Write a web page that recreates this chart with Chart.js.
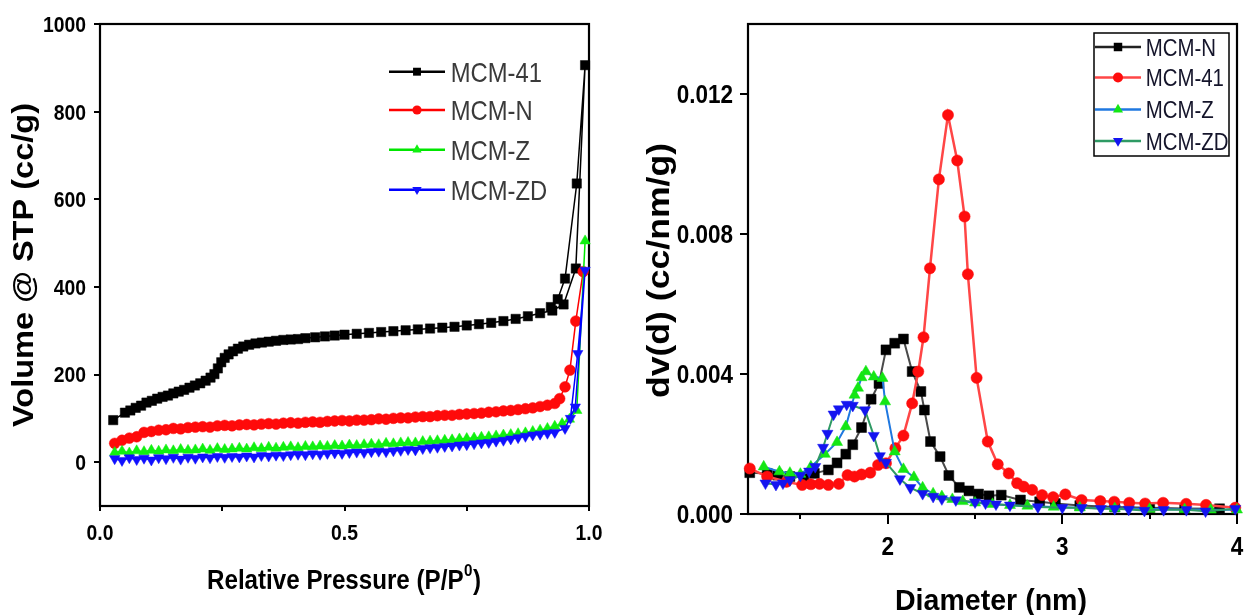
<!DOCTYPE html>
<html>
<head>
<meta charset="utf-8">
<title>N2 sorption isotherms and pore size distribution</title>
<script src="https://cdn.jsdelivr.net/npm/chart.js@4.4.1/dist/chart.umd.min.js"></script>
<style>
  html, body { margin: 0; padding: 0; background: #fff; }
  #wrap { position: relative; width: 1247px; height: 615px; overflow: hidden; }
  canvas { position: absolute; top: 0; }
  #iso { left: 0; }
  #psd { left: 625px; }
</style>
</head>
<body>
<div id="wrap">
  <canvas id="iso" width="625" height="615"></canvas>
  <canvas id="psd" width="622" height="615"></canvas>
</div>
<script>
// ---------- Isotherm panel: volume adsorbed vs relative pressure ----------
const isoNames = ['MCM-41', 'MCM-N', 'MCM-Z', 'MCM-ZD'];

// MCM-41: adsorption branch followed by the desorption branch
const isoP41 = [0.027,0.051,0.062,0.073,0.084,0.095,0.106,0.117,0.128,0.139,0.150,0.161,0.172,0.183,0.194,0.205,0.216,0.226,0.234,0.241,0.248,0.255,0.263,0.272,0.282,0.293,0.305,0.318,0.331,0.345,0.360,0.375,0.390,0.405,0.420,0.440,0.460,0.480,0.500,0.525,0.550,0.575,0.600,0.625,0.650,0.675,0.700,0.725,0.750,0.775,0.800,0.825,0.850,0.875,0.900,0.925,0.948,0.973,0.992,0.975,0.951,0.936,0.922];
const isoV41 = [96,113,118,124,129,136,140,145,149,152,157,161,165,170,175,180,186,193,201,214,228,238,246,253,259,264,268,271,273,275,277,279,280,281,283,285,287,289,291,293,295,297,299,301,303,305,307,309,312,315,318,322,327,333,340,346,360,442,906,636,419,372,354];

// shared low/medium pressure grid for the three modified samples
const isoPLow = [0.030,0.045,0.060,0.075,0.090,0.105,0.120,0.135,0.150,0.165,0.180,0.195,0.210,0.225,0.240,0.255,0.270,0.285,0.300,0.315,0.330,0.345,0.360,0.375,0.390,0.405,0.420,0.435,0.450,0.465,0.480,0.495,0.510,0.525,0.540,0.555,0.570,0.585,0.600,0.615,0.630,0.645,0.660,0.675,0.690,0.705,0.720,0.735,0.750,0.765,0.780,0.795,0.810,0.825,0.840,0.855,0.870,0.885,0.900,0.915,0.930];
const isoVNLow = [43,50,55,58,68,70,73,74,77,76,79,80,81,80,83,84,83,85,86,85,87,88,87,89,90,89,91,92,91,93,94,95,94,96,96,97,99,98,100,101,101,103,104,104,106,107,107,109,110,111,112,114,115,117,118,120,122,124,127,130,134];
const isoVZLow = [22,25,21,26,24,27,25,28,26,29,27,28,30,27,31,29,30,32,30,33,31,34,32,34,35,33,36,35,37,36,38,37,39,38,40,41,40,43,42,44,45,44,47,48,49,50,51,53,54,55,57,58,60,62,63,65,67,70,73,77,82];
const isoVZDLow = [8,4,10,6,9,5,10,8,11,7,11,9,12,10,13,11,13,12,14,12,15,14,16,15,17,18,17,19,18,20,21,20,22,23,22,24,25,24,26,27,29,28,31,33,34,36,37,39,40,42,44,45,48,50,53,56,59,62,64,66,68];

// high pressure ends (capillary condensation region)
const isoPNHigh = [0.940,0.951,0.961,0.973,0.988];
const isoVNHigh = [145,172,210,322,435];
const isoPZHigh = [0.945,0.960,0.975,0.992];
const isoVZHigh = [88,98,118,505];
const isoPZDHigh = [0.951,0.972,0.992,0.977,0.962];
const isoVZDHigh = [77,126,438,248,100];

const isoXTicks = [0, 0.5, 1.0];
const isoXTickLabels = ['0.0', '0.5', '1.0'];
const isoXMinor = [0.25, 0.75];
const isoYTicks = [0, 200, 400, 600, 800, 1000];
const isoYTickLabels = ['0', '200', '400', '600', '800', '1000'];

// ---------- Pore size distribution panel ----------
const psdNames = ['MCM-N', 'MCM-41', 'MCM-Z', 'MCM-ZD'];
const psdDN = [1.21,1.31,1.37,1.44,1.52,1.58,1.66,1.71,1.76,1.80,1.85,1.905,1.95,1.99,2.04,2.09,2.14,2.19,2.21,2.245,2.30,2.35,2.41,2.465,2.52,2.58,2.65,2.76,2.87,2.96,3.10,3.30,3.50,3.70,3.90];
const psdVN = [0.00118,0.00116,0.00111,0.00107,0.00107,0.00116,0.00126,0.00146,0.00171,0.00198,0.00247,0.00328,0.00373,0.00469,0.00488,0.00500,0.00407,0.00350,0.00297,0.00207,0.00164,0.00110,0.00076,0.00066,0.00057,0.00052,0.00054,0.00040,0.00035,0.00030,0.00024,0.00020,0.00018,0.00016,0.00015];
const psdD41 = [1.21,1.31,1.42,1.51,1.56,1.61,1.66,1.72,1.77,1.81,1.85,1.90,1.945,1.99,2.044,2.09,2.14,2.175,2.205,2.242,2.293,2.345,2.398,2.44,2.459,2.509,2.573,2.63,2.693,2.741,2.779,2.827,2.884,2.947,3.017,3.11,3.217,3.297,3.383,3.474,3.577,3.709,3.823,3.99];
const psdV41 = [0.0013,0.00107,0.00092,0.00083,0.00085,0.00086,0.00083,0.00086,0.00111,0.00107,0.00113,0.00118,0.0014,0.00145,0.00188,0.00224,0.00316,0.00407,0.00505,0.00702,0.00956,0.0114,0.0101,0.0085,0.00685,0.00389,0.00207,0.00142,0.00116,0.00088,0.00078,0.00069,0.00054,0.00048,0.00056,0.0004,0.00037,0.00035,0.00032,0.0003,0.00032,0.00029,0.00026,0.00018];
const psdDZ = [1.29,1.38,1.44,1.50,1.56,1.64,1.71,1.76,1.81,1.83,1.85,1.875,1.92,1.97,1.985,2.04,2.09,2.15,2.20,2.26,2.31,2.37,2.43,2.50,2.60,2.70,2.80,2.95,3.10,3.30,3.50,3.70,3.85,4.00];
const psdVZ = [0.00135,0.00121,0.00117,0.00114,0.00135,0.00171,0.00205,0.0025,0.0034,0.0036,0.0039,0.00407,0.00392,0.00388,0.00321,0.00178,0.00128,0.00105,0.00075,0.00058,0.0005,0.00042,0.00036,0.00032,0.00028,0.00025,0.00023,0.0002,0.00018,0.00016,0.00014,0.00013,0.00012,0.00012];
const psdDZD = [1.30,1.36,1.40,1.44,1.50,1.55,1.585,1.63,1.655,1.69,1.72,1.765,1.80,1.87,1.92,1.955,1.99,2.07,2.13,2.20,2.26,2.31,2.39,2.50,2.56,2.62,2.70,2.86,3.00,3.11,3.22,3.30,3.38,3.47,3.58,3.71,3.82,3.99];
const psdVZD = [0.00088,0.00084,0.00088,0.00097,0.0011,0.00122,0.00135,0.0019,0.0023,0.00285,0.003,0.00313,0.0031,0.00297,0.00224,0.00166,0.00147,0.001,0.00075,0.00058,0.0005,0.00043,0.0004,0.00034,0.00031,0.00028,0.00025,0.0002,0.00018,0.00018,0.00015,0.00015,0.00013,0.0001,0.00012,0.00012,0.00008,0.00015];

const psdXTicks = [2, 3, 4];
const psdXTickLabels = ['2', '3', '4'];
const psdXMinor = [1.5, 2.5, 3.5];
const psdYTicks = [0, 0.004, 0.008, 0.012];
const psdYTickLabels = ['0.000', '0.004', '0.008', '0.012'];

// ---------- drawing helpers ----------
const FONT = '"Liberation Sans", Arial, Helvetica, sans-serif';

// Draw text; y is the cap-height centre when capMid is set, otherwise the baseline.
function putText(ctx, str, x, y, o) {
  ctx.save();
  ctx.font = (o.weight || 'normal') + ' ' + o.size + 'px ' + FONT;
  ctx.fillStyle = o.color || '#000';
  ctx.textBaseline = 'alphabetic';
  ctx.textAlign = 'left';
  const natural = ctx.measureText(str).width;
  const sx = o.width ? o.width / natural : (o.sx || 1);
  const w = natural * sx;
  ctx.translate(x, y);
  if (o.rotate) ctx.rotate(o.rotate);
  const dx = o.align === 'center' ? -w / 2 : (o.align === 'right' ? -w : 0);
  ctx.translate(dx, o.capMid ? 0.358 * o.size : 0);
  ctx.scale(sx, 1);
  ctx.fillText(str, 0, 0);
  ctx.restore();
  return w;
}

function marker(ctx, shape, x, y, r, color, rot) {
  ctx.save();
  ctx.fillStyle = color;
  ctx.beginPath();
  if (shape === 'rect') {
    const s = Math.SQRT1_2 * r;
    ctx.rect(x - s, y - s, 2 * s, 2 * s);
  } else if (shape === 'triangle') {
    let a = (rot || 0) * Math.PI / 180;
    for (let k = 0; k < 3; k++) {
      const px = x + Math.sin(a) * r, py = y - Math.cos(a) * r;
      if (k === 0) ctx.moveTo(px, py); else ctx.lineTo(px, py);
      a += 2 * Math.PI / 3;
    }
    ctx.closePath();
  } else {
    ctx.arc(x, y, r, 0, Math.PI * 2);
  }
  ctx.fill();
  ctx.restore();
}

function series(name, xs, ys, st) {
  return {
    label: name,
    data: xs.map((x, i) => ({ x: x, y: ys[i] })),
    showLine: true,
    tension: 0,
    borderColor: st.line,
    borderWidth: st.lw,
    pointStyle: st.shape,
    pointRotation: st.rot || 0,
    pointRadius: st.r,
    pointBackgroundColor: st.fill,
    pointBorderColor: st.fill,
    pointBorderWidth: 0.5,
    clip: false,
    order: st.order,
    legendLine: st.legendLine || st.line,
    legendRadius: st.lr
  };
}

function frameAndTicks(chart, t) {
  const ctx = chart.ctx, a = chart.chartArea;
  const xs = chart.scales.x, ys = chart.scales.y;
  ctx.save();
  ctx.strokeStyle = '#000';
  ctx.lineWidth = 2.2;
  ctx.strokeRect(a.left, a.top, a.right - a.left, a.bottom - a.top);
  ctx.lineWidth = 2;
  ctx.beginPath();
  t.yTicks.forEach(v => {
    const py = Math.round(ys.getPixelForValue(v));
    ctx.moveTo(a.left - t.yLen, py); ctx.lineTo(a.left, py);
  });
  t.xTicks.forEach(v => {
    const px = Math.round(xs.getPixelForValue(v));
    ctx.moveTo(px, a.bottom); ctx.lineTo(px, a.bottom + t.xLen);
  });
  t.xMinor.forEach(v => {
    const px = Math.round(xs.getPixelForValue(v));
    ctx.moveTo(px, a.bottom); ctx.lineTo(px, a.bottom + t.xMinorLen);
  });
  ctx.stroke();
  ctx.restore();
}

function tickLabels(chart, t) {
  const ctx = chart.ctx, a = chart.chartArea;
  const xs = chart.scales.x, ys = chart.scales.y;
  t.yTicks.forEach((v, i) => {
    putText(ctx, t.yLabels[i], a.left - t.yPad, ys.getPixelForValue(v),
      { size: t.size, weight: 'bold', sx: t.sx, align: 'right', capMid: true });
  });
  t.xTicks.forEach((v, i) => {
    putText(ctx, t.xLabels[i], xs.getPixelForValue(v), t.xLabelY,
      { size: t.size, weight: 'bold', sx: t.sx, align: 'center', capMid: true });
  });
}

function legendEntries(chart, L) {
  const ctx = chart.ctx;
  chart.data.datasets.forEach((ds, i) => {
    const y = L.rows[i];
    ctx.save();
    ctx.strokeStyle = ds.legendLine;
    ctx.lineWidth = L.lw;
    ctx.beginPath();
    ctx.moveTo(L.x0, y); ctx.lineTo(L.x1, y);
    ctx.stroke();
    ctx.restore();
    marker(ctx, ds.pointStyle, (L.x0 + L.x1) / 2, y, ds.legendRadius, ds.pointBackgroundColor, ds.pointRotation);
    putText(ctx, ds.label, L.textX, y, { size: L.size, sx: L.sx, color: L.color, capMid: true });
  });
}

function makeScatter(canvas, datasets, cfg, plugin) {
  return new Chart(canvas, {
    type: 'scatter',
    data: { datasets: datasets },
    options: {
      responsive: false,
      animation: false,
      devicePixelRatio: 1,
      layout: { padding: cfg.padding },
      plugins: { legend: { display: false }, tooltip: { enabled: false } },
      scales: {
        x: {
          type: 'linear', position: 'bottom', min: cfg.xMin, max: cfg.xMax,
          grid: { display: false, drawTicks: false }, border: { display: false },
          ticks: { display: false },
          afterFit: s => { s.height = cfg.xHeight; }
        },
        y: {
          type: 'linear', position: 'left', min: cfg.yMin, max: cfg.yMax,
          grid: { display: false, drawTicks: false }, border: { display: false },
          ticks: { display: false },
          afterFit: s => { s.width = cfg.yWidth; }
        }
      }
    },
    plugins: [plugin]
  });
}

// ---------- isotherm chart ----------
const isoDatasets = [
  series(isoNames[0], isoP41, isoV41, { line: '#000000', lw: 1.5, shape: 'rect', r: 6.6, lr: 5.6, fill: '#000000', order: 3 }),
  series(isoNames[1], isoPLow.concat(isoPNHigh), isoVNLow.concat(isoVNHigh), { line: '#ff0000', lw: 1.5, shape: 'circle', r: 5.4, lr: 4.6, fill: '#ff0a0a', order: 2 }),
  series(isoNames[2], isoPLow.concat(isoPZHigh), isoVZLow.concat(isoVZHigh), { line: '#00e600', lw: 1.5, shape: 'triangle', r: 6, lr: 5.4, fill: '#10f010', order: 1 }),
  series(isoNames[3], isoPLow.concat(isoPZDHigh), isoVZDLow.concat(isoVZDHigh), { line: '#0000ff', lw: 1.5, shape: 'triangle', rot: 180, r: 6, lr: 5.4, fill: '#1010ff', order: 0 })
];

const isoTicks = {
  yTicks: isoYTicks, yLabels: isoYTickLabels, xTicks: isoXTicks, xLabels: isoXTickLabels, xMinor: isoXMinor,
  yLen: 6, xLen: 5, xMinorLen: 5, yPad: 14, xLabelY: 532.5, size: 22, sx: 0.88
};

const isoDecor = {
  id: 'isoDecor',
  beforeDatasetsDraw(chart) { frameAndTicks(chart, isoTicks); },
  afterDraw(chart) {
    const ctx = chart.ctx;
    tickLabels(chart, isoTicks);
    // y title
    putText(ctx, 'Volume @ STP (cc/g)', 33, 265,
      { size: 30, weight: 'bold', width: 324, align: 'center', rotate: -Math.PI / 2 });
    // x title with superscript
    ctx.save();
    const mainSize = 27, supSize = 17;
    ctx.font = 'bold ' + mainSize + 'px ' + FONT;
    const w1 = ctx.measureText('Relative Pressure (P/P').width;
    const w3 = ctx.measureText(')').width;
    ctx.font = 'bold ' + supSize + 'px ' + FONT;
    const w2 = ctx.measureText('0').width;
    ctx.restore();
    const sx = 273 / (w1 + w2 + w3);
    let x = 343.5 - 273 / 2;
    const base = 579 + 0.358 * mainSize;
    x += putText(ctx, 'Relative Pressure (P/P', x, base, { size: mainSize, weight: 'bold', sx: sx });
    x += putText(ctx, '0', x + 0.5, base - 13, { size: supSize, weight: 'bold', sx: sx });
    putText(ctx, ')', x + 1, base, { size: mainSize, weight: 'bold', sx: sx });
    legendEntries(chart, { rows: [71.7, 110, 149.7, 189.7], x0: 389, x1: 445, lw: 2.5, textX: 450.7, size: 28, sx: 0.85, color: '#3a3a3a' });
  }
};

makeScatter(document.getElementById('iso'), isoDatasets,
  { padding: { top: 24, right: 36, left: 0, bottom: 0 }, xMin: 0, xMax: 1, yMin: -100, yMax: 1000, xHeight: 109, yWidth: 100 },
  isoDecor);

// ---------- pore size distribution chart ----------
const psdDatasets = [
  series(psdNames[0], psdDN, psdVN, { line: '#4a4a4a', lw: 2, shape: 'rect', r: 7, lr: 6, fill: '#000000', order: 3, legendLine: '#222222' }),
  series(psdNames[1], psdD41, psdV41, { line: '#ff4646', lw: 2.5, shape: 'circle', r: 5.6, lr: 5, fill: '#ff0d0d', order: 2 }),
  series(psdNames[2], psdDZ, psdVZ, { line: '#1f78e0', lw: 2, shape: 'triangle', r: 6.4, lr: 5.8, fill: '#14e614', order: 1 }),
  series(psdNames[3], psdDZD, psdVZD, { line: '#2e9a64', lw: 2, shape: 'triangle', rot: 180, r: 6.4, lr: 5.8, fill: '#1414f0', order: 0 })
];

const psdTicks = {
  yTicks: psdYTicks, yLabels: psdYTickLabels, xTicks: psdXTicks, xLabels: psdXTickLabels, xMinor: psdXMinor,
  yLen: 8, xLen: 10, xMinorLen: 5, yPad: 15, xLabelY: 546, size: 25, sx: 0.9
};

const psdDecor = {
  id: 'psdDecor',
  beforeDatasetsDraw(chart) { frameAndTicks(chart, psdTicks); },
  afterDraw(chart) {
    const ctx = chart.ctx;
    const off = 625;
    tickLabels(chart, psdTicks);
    putText(ctx, 'dv(d) (cc/nm/g)', 669 - off, 270.5,
      { size: 31, weight: 'bold', width: 255, align: 'center', rotate: -Math.PI / 2 });
    putText(ctx, 'Diameter (nm)', 991 - off, 599,
      { size: 30, weight: 'bold', width: 192, align: 'center', capMid: true });
    // legend box
    ctx.save();
    ctx.fillStyle = '#fff';
    ctx.fillRect(1094 - off, 33, 135, 123);
    ctx.strokeStyle = '#000';
    ctx.lineWidth = 1.5;
    ctx.strokeRect(1094 - off, 33, 135, 123);
    ctx.restore();
    legendEntries(chart, { rows: [47, 77.5, 109.5, 141], x0: 1095 - off, x1: 1141 - off, lw: 2.5, textX: 1145.7 - off, size: 24, sx: 0.85, color: '#14142a' });
  }
};

makeScatter(document.getElementById('psd'), psdDatasets,
  { padding: { top: 24, right: 10, left: 0, bottom: 0 }, xMin: 1.2, xMax: 4, yMin: 0, yMax: 0.014, xHeight: 101, yWidth: 123 },
  psdDecor);
</script>
</body>
</html>
